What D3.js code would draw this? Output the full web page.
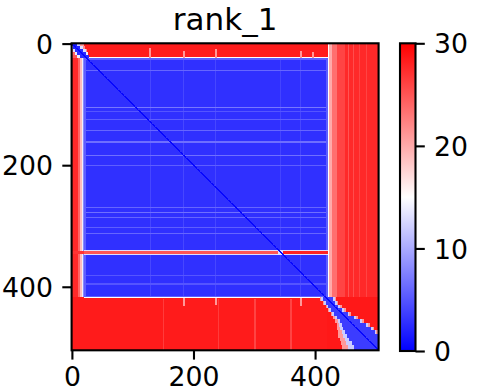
<!DOCTYPE html>
<html><head><meta charset="utf-8">
<script src="https://cdn.jsdelivr.net/npm/d3@7"></script>
<style>
body{margin:0;background:#fff}
svg{display:block}
text{font-family:"DejaVu Sans",sans-serif;fill:#000}
</style>
</head><body>
<svg id="chart" width="484" height="392"></svg>
<script>
// ---------------- DATA (residue indices, PAE values in Å) ----------------
const N = 505;
const title = "rank_1";
const axisTicks = [0, 200, 400];
const colorTicks = [0, 10, 20, 30];
const colorStops = [0, 15, 30];

// domain blocks: [rowStart, rowEnd, colStart, colEnd, value]
const blocks = [
  [0, 505, 0, 505, 28.6],
  [0, 23, 20, 422, 28.3],
  [0, 418, 422, 505, 27.6],
  [0, 418, 436, 450, 26],
  [0, 418, 428, 436, 23.5],
  [0, 418, 424, 428, 20],
  [0, 418, 422, 424, 15],
  [418, 505, 0, 420, 28.4],
  [25, 418, 0, 11, 27.6],
  [25, 418, 11, 14, 24],
  [25, 418, 14, 17, 19],
  [25, 418, 17, 19, 14],
  [25, 418, 19, 21, 8],
  [23, 25, 21, 422, 15],
  [417, 419, 21, 422, 15],
  [25, 417, 21, 422, 2.8],
  [25, 417, 21, 23, 5.5],
  [25, 27, 21, 422, 5.5],
  [25, 417, 419, 422, 5.5],
  [415, 417, 21, 422, 5.5]
];

// faint texture streaks in the off-diagonal regions: [rowStart, rowEnd, col, width, value]
const redStreaks = [
  [0, 418, 455, 2, 25], [0, 418, 463, 2, 25.5], [0, 418, 472, 2, 26], [0, 418, 484, 2, 26],
  [420, 505, 150, 2, 26.5], [420, 505, 240, 2, 26.5], [420, 505, 300, 3, 26], [420, 505, 360, 3, 26]
];

// faint column streaks inside the main domain: [col, width, value]
const colStreaks = [[129, 2, 4.2], [183, 2, 4.2], [236, 2, 4.2], [343, 2, 4], [376, 2, 4.2]];

// light row stripes inside the main domain: [row, height, value]
const rowStripes = [
  [44, 2, 6], [104, 2, 7], [112, 1, 5], [124, 2, 5.5], [143, 2, 6], [160, 4, 6.5],
  [183, 2, 6.5], [200, 2, 5.5], [211, 1, 5], [236, 1, 7.5], [269, 2, 6], [277, 2, 6.5],
  [285, 2, 6], [302, 2, 5.5], [312, 2, 6], [318, 1, 5], [381, 2, 5], [395, 2, 5]
];

// high-error linker row crossing the domain: [rowStart, rowEnd, colStart, colEnd, value]
const linkerRows = [
  [340, 348, 21, 422, 13],
  [341, 347, 21, 340, 25],
  [341, 347, 348, 422, 28],
  [341, 347, 0, 21, 27]
];

// light spikes at the domain edges: [rowStart, rowEnd, col, width, value]
const edgeSpikes = [
  [8, 25, 128, 3, 21], [12, 25, 183, 3, 21], [10, 25, 236, 3, 21], [12, 25, 376, 3, 21], [14, 25, 396, 3, 21],
  [419, 432, 184, 3, 21], [419, 430, 236, 3, 21], [419, 432, 376, 3, 21]
];

// N-terminal corner: [rowStart, rowEnd, colStart, colEnd, value]
const cornerCells = [
  [0, 25, 0, 21, 27],
  [0, 5, 0, 9, 2], [0, 5, 9, 13, 12], [0, 5, 13, 20, 21],
  [5, 10, 0, 3, 10], [5, 10, 3, 14, 2], [5, 10, 14, 18, 13], [5, 10, 18, 22, 22],
  [10, 15, 0, 3, 22], [10, 15, 3, 6, 13], [10, 15, 6, 19, 2.5], [10, 15, 19, 23, 13], [10, 15, 23, 26, 22],
  [15, 20, 0, 5, 24], [15, 20, 5, 9, 14], [15, 20, 9, 23, 2.5], [15, 20, 23, 27, 14],
  [20, 25, 0, 9, 25], [20, 25, 9, 13, 14], [20, 25, 13, 28, 2.5]
];

// C-terminal tail: [rowStart, rowEnd, lowColStart, lowColEnd, leftEdge, rightEdge]
const tailBands = [
  [417, 424, 413, 430, 4, 5],
  [424, 430, 418, 434, 4, 5],
  [430, 436, 422, 439, 4, 5],
  [436, 442, 426, 445, 5, 6],
  [442, 448, 431, 454, 5, 6],
  [448, 454, 436, 464, 6, 7],
  [454, 460, 441, 474, 7, 7],
  [460, 466, 444, 484, 8, 7],
  [466, 472, 447, 492, 10, 6],
  [472, 478, 450, 499, 12, 5],
  [478, 484, 453, 505, 14, 0],
  [484, 490, 457, 505, 16, 0],
  [490, 496, 461, 505, 18, 0],
  [496, 505, 465, 505, 20, 0]
];
const tailValues = [21, 12, 3.5];   // outer edge, inner edge, core
const diagValue = 0.4;

// ---------------- DRAW ----------------
const svg = d3.select("#chart");
const L = 71.6, R = 378.6, T = 43.3, B = 350.3;
const x = d3.scaleLinear().domain([-0.5, N - 0.5]).range([L, R]);
const y = d3.scaleLinear().domain([-0.5, N - 0.5]).range([T, B]);
const color = d3.scaleLinear().domain(colorStops).range(["#0000ff", "#ffffff", "#ff0000"]).clamp(true);

svg.append("defs").append("clipPath").attr("id", "plotclip")
  .append("rect").attr("x", L).attr("y", T).attr("width", R - L).attr("height", B - T);

const g = svg.append("g").attr("clip-path", "url(#plotclip)").attr("shape-rendering", "crispEdges");

function cell(r0, r1, c0, c1, v) {
  if (c1 <= c0 || r1 <= r0) return;
  g.append("rect")
    .attr("x", x(c0 - 0.5)).attr("width", x(c1 - 0.5) - x(c0 - 0.5))
    .attr("y", y(r0 - 0.5)).attr("height", y(r1 - 0.5) - y(r0 - 0.5))
    .attr("fill", color(v));
}

blocks.forEach(d => cell(...d));
redStreaks.forEach(([r0, r1, c, w, v]) => cell(r0, r1, c, c + w, v));
colStreaks.forEach(([c, w, v]) => cell(27, 415, c, c + w, v));
rowStripes.forEach(([r, h, v]) => cell(r, r + h, 23, 419, v));
linkerRows.forEach(d => cell(...d));
edgeSpikes.forEach(([r0, r1, c, w, v]) => cell(r0, r1, c, c + w, v));
cornerCells.forEach(d => cell(...d));
tailBands.forEach(([r0, r1, c0, c1, el, er]) => {
  cell(r0, r1, c0 - el, c1 + er, tailValues[0]);
  cell(r0, r1, c0 - el / 2, c1 + er / 2, tailValues[1]);
  cell(r0, r1, c0, c1, tailValues[2]);
});
d3.range(N).forEach(i => cell(i, i + 1, i - 1, i + 2, diagValue));

// frame
svg.append("rect").attr("x", L).attr("y", T).attr("width", R - L).attr("height", B - T)
  .attr("fill", "none").attr("stroke", "#000").attr("stroke-width", 2.1);

const fs = 26.7;
const xAxis = svg.append("g").attr("transform", `translate(0,${B})`)
  .call(d3.axisBottom(x).tickValues(axisTicks).tickSize(9.3).tickPadding(9.3).tickFormat(d3.format("d")));
const yAxis = svg.append("g").attr("transform", `translate(${L},0)`)
  .call(d3.axisLeft(y).tickValues(axisTicks).tickSize(9.3).tickPadding(9.3).tickFormat(d3.format("d")));
[xAxis, yAxis].forEach(a => {
  a.select(".domain").remove();
  a.selectAll("line").attr("stroke", "#000").attr("stroke-width", 2.1);
  a.selectAll("text").attr("font-size", fs).attr("font-family", "DejaVu Sans");
});
xAxis.selectAll("text").attr("dy", null).attr("y", 386 - B);
yAxis.selectAll("text").attr("dy", "0.36em");

svg.append("text").attr("x", (L + R) / 2).attr("y", 29.5).attr("text-anchor", "middle")
  .attr("font-size", 31).text(title);

// colorbar
const cbX = 400, cbW = 15.5, cbT = 43.3, cbB = 351;
const grad = svg.select("defs").append("linearGradient").attr("id", "cbgrad")
  .attr("x1", 0).attr("x2", 0).attr("y1", 1).attr("y2", 0);
colorStops.forEach(v => grad.append("stop").attr("offset", v / 30).attr("stop-color", color(v)));
svg.append("rect").attr("x", cbX).attr("y", cbT).attr("width", cbW).attr("height", cbB - cbT)
  .attr("fill", "url(#cbgrad)");
const cs = d3.scaleLinear().domain([0, 30]).range([cbB, cbT]);
const cAxis = svg.append("g").attr("transform", `translate(${cbX + cbW},0)`)
  .call(d3.axisRight(cs).tickValues(colorTicks).tickSize(9.3).tickPadding(9.3));
cAxis.select(".domain").remove();
cAxis.selectAll("line").attr("stroke", "#000").attr("stroke-width", 2.1);
cAxis.selectAll("text").attr("font-size", fs).attr("font-family", "DejaVu Sans").attr("dy", "0.36em");
svg.append("rect").attr("x", cbX).attr("y", cbT).attr("width", cbW).attr("height", cbB - cbT)
  .attr("fill", "none").attr("stroke", "#000").attr("stroke-width", 2.1);
</script>
</body></html>
